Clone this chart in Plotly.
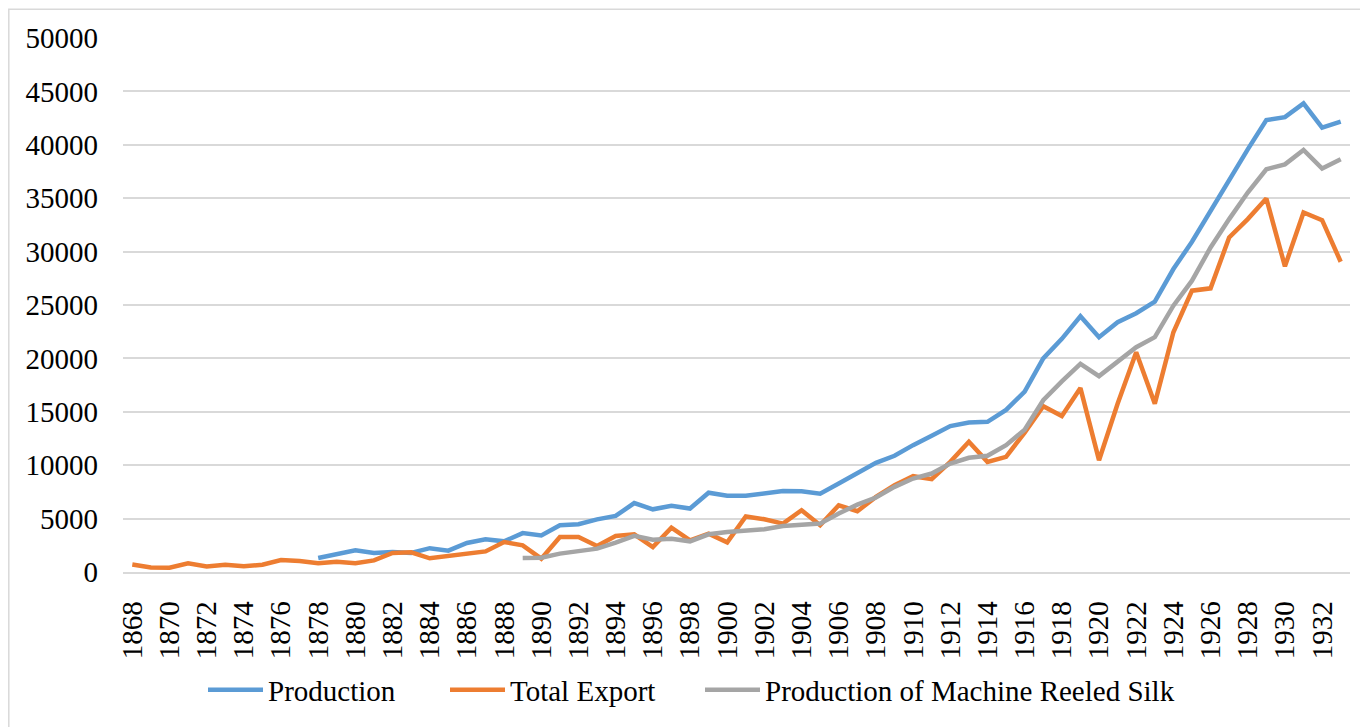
import plotly.graph_objects as go

years = list(range(1868, 1934))
tick_years = list(range(1868, 1934, 2))
y_ticks = [0, 5000, 10000, 15000, 20000, 25000, 30000, 35000, 40000, 45000, 50000]

production = [None] * 10 + [
    1310, 1650, 2030, 1780, 1880, 1780, 2230, 2000, 2720, 3060,   # 1878-1887
    2870, 3640, 3430, 4370, 4470, 4930, 5250, 6450, 5870, 6190,   # 1888-1897
    5940, 7420, 7150, 7130, 7320, 7580, 7560, 7340, 8280, 9280,   # 1898-1907
    10220, 10880, 11880, 12750, 13660, 14000, 14060, 15180, 16900, 20000,  # 1908-1917
    21830, 23950, 21990, 23390, 24230, 25320, 28370, 30920, 33810, 36770,  # 1918-1927
    39570, 42310, 42590, 43870, 41600, 42160,                     # 1928-1933
]

total_export = [
    700, 420, 400, 810, 520, 680, 540, 680, 1120, 1030,           # 1868-1877
    830, 960, 820, 1090, 1780, 1840, 1280, 1500, 1620, 1930,      # 1878-1887
    2810, 2500, 1250, 3280, 3280, 2440, 3380, 3530, 2340, 4160,   # 1888-1897
    2970, 3590, 2780, 5200, 4940, 4530, 5780, 4375, 6250, 5690,   # 1898-1907
    7030, 8125, 8970, 8690, 10310, 12190, 10310, 10780, 13050, 15520,  # 1908-1917
    14610, 17220, 10470, 15760, 20580, 15760, 22450, 26340, 26560, 31320,  # 1918-1927
    33040, 34970, 28620, 33660, 32940, 29050,                     # 1928-1933
]

machine_reeled = [None] * 21 + [
    1310, 1340, 1720, 1930, 2190, 2750, 3380, 3030, 3120,         # 1889-1897
    2870, 3530, 3750, 3900, 4000, 4310, 4470, 4530, 5470, 6310,   # 1898-1907
    6970, 7970, 8750, 9220, 10160, 10690, 10880, 11880, 13320, 16080,  # 1908-1917
    17840, 19490, 18340, 19650, 21050, 21990, 24940, 27280, 30390, 33040,  # 1918-1927
    35530, 37710, 38170, 39510, 37770, 38640,                     # 1928-1933
]

series = [
    ("Production", production, "#5B9BD5", "legend"),
    ("Total Export", total_export, "#ED7D31", "legend2"),
    ("Production of Machine Reeled Silk", machine_reeled, "#A5A5A5", "legend3"),
]

FONT = "Liberation Serif"
FS = 29

fig = go.Figure()
for name, vals, color, lg in series:
    fig.add_trace(go.Scatter(
        x=years, y=vals, name=name, mode="lines",
        line=dict(color=color, width=4.5),
        connectgaps=False, legend=lg,
    ))

# page has an 8px body margin; figure sized to fit the 1368x727 window
W, H = 1360, 719
L, R, T, B = 115, 18, 30, 155
pw, ph = W - L - R, H - T - B


def legend_at(px):
    return dict(
        orientation="h", xref="container", yref="container",
        x=px / W, xanchor="left", y=1 - 682 / H, yanchor="middle",
        font=dict(family=FONT, size=FS, color="#000000"),
        itemwidth=55, bgcolor="rgba(0,0,0,0)",
    )


fig.update_layout(
    width=W, height=H,
    margin=dict(l=L, r=R, t=T, b=B, autoexpand=False),
    paper_bgcolor="white", plot_bgcolor="white",
    font=dict(family=FONT, size=FS, color="#000000"),
    showlegend=True,
    legend=legend_at(195),
    legend2=legend_at(437),
    legend3=legend_at(692),
    xaxis=dict(
        range=[1867.5, 1933.5], automargin=False,
        tickmode="array", tickvals=tick_years, ticktext=[str(y) for y in tick_years],
        tickangle=-90, ticks="", showgrid=False, zeroline=False,
        showline=True, linecolor="#D9D9D9", linewidth=1.5,
        ticklabelstandoff=16,
        tickfont=dict(family=FONT, size=FS, color="#000000"),
    ),
    yaxis=dict(
        range=[0, 50000], automargin=False,
        tickmode="array", tickvals=y_ticks, ticktext=[str(v) for v in y_ticks],
        ticks="", showgrid=True, gridcolor="#D9D9D9", gridwidth=1.5,
        zeroline=False, showline=False,
        ticklabelstandoff=24,
        tickfont=dict(family=FONT, size=FS, color="#000000"),
    ),
    shapes=[
        dict(type="rect", xref="paper", yref="paper",
             x0=(0.8 - L) / pw, x1=(W + 20 - L) / pw,
             y0=-(H + 20 - T - ph) / ph, y1=(ph + T - 1.2) / ph,
             line=dict(color="#D9D9D9", width=1.5), fillcolor="rgba(0,0,0,0)",
             layer="below"),
    ],
)

fig.write_html("out.html")
